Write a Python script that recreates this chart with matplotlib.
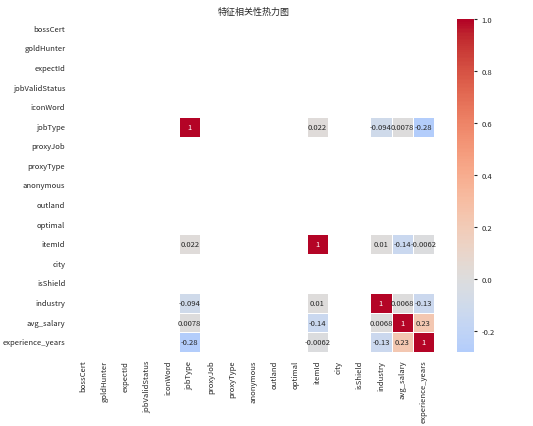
import numpy as np
import pandas as pd
import matplotlib
matplotlib.use("Agg")
import matplotlib.pyplot as plt
import seaborn as sns

labels = ["bossCert", "goldHunter", "expectId", "jobValidStatus", "iconWord",
          "jobType", "proxyJob", "proxyType", "anonymous", "outland", "optimal",
          "itemId", "city", "isShield", "industry", "avg_salary", "experience_years"]

# variables with non-constant values and their pairwise correlations
valid_vars = ["jobType", "itemId", "industry", "avg_salary", "experience_years"]
pair_a = ["jobType", "jobType", "jobType", "jobType", "itemId", "itemId", "itemId",
          "industry", "industry", "avg_salary"]
pair_b = ["itemId", "industry", "avg_salary", "experience_years", "industry",
          "avg_salary", "experience_years", "avg_salary", "experience_years",
          "experience_years"]
pair_r = [0.022, -0.094, 0.0078, -0.28, 0.01, -0.14, -0.0062, 0.0068, -0.13, 0.23]

corr = pd.DataFrame(np.nan, index=labels, columns=labels)
for v in valid_vars:
    corr.loc[v, v] = 1.0
for a, b, r in zip(pair_a, pair_b, pair_r):
    corr.loc[a, b] = r
    corr.loc[b, a] = r

sns.set_style("white")
plt.rcParams["font.family"] = ["Noto Sans CJK SC", "DejaVu Sans"]
plt.rcParams["axes.unicode_minus"] = False

fs = 5.5
fig = plt.figure(figsize=(5.33, 4.27), dpi=100)
ax = fig.add_axes([73/533, 1-353/427, (434-73)/533, (353-20)/427])
cax = fig.add_axes([457/533, 1-353/427, 17/533, (353-20)/427])

sns.heatmap(corr, ax=ax, cbar_ax=cax, cmap="coolwarm", center=0, annot=True,
            linewidths=0.5, linecolor="white", annot_kws={"fontsize": fs})
ax.set_title("特征相关性热力图", fontsize=6.5, pad=4)
ax.tick_params(axis="both", labelsize=fs, length=2)
ax.set_xticklabels(labels, rotation=90)
ax.set_yticklabels(labels, rotation=0)
cax.tick_params(labelsize=fs, length=2)
for s in cax.spines.values():
    s.set_visible(False)

fig.savefig("out.png", dpi=100)
